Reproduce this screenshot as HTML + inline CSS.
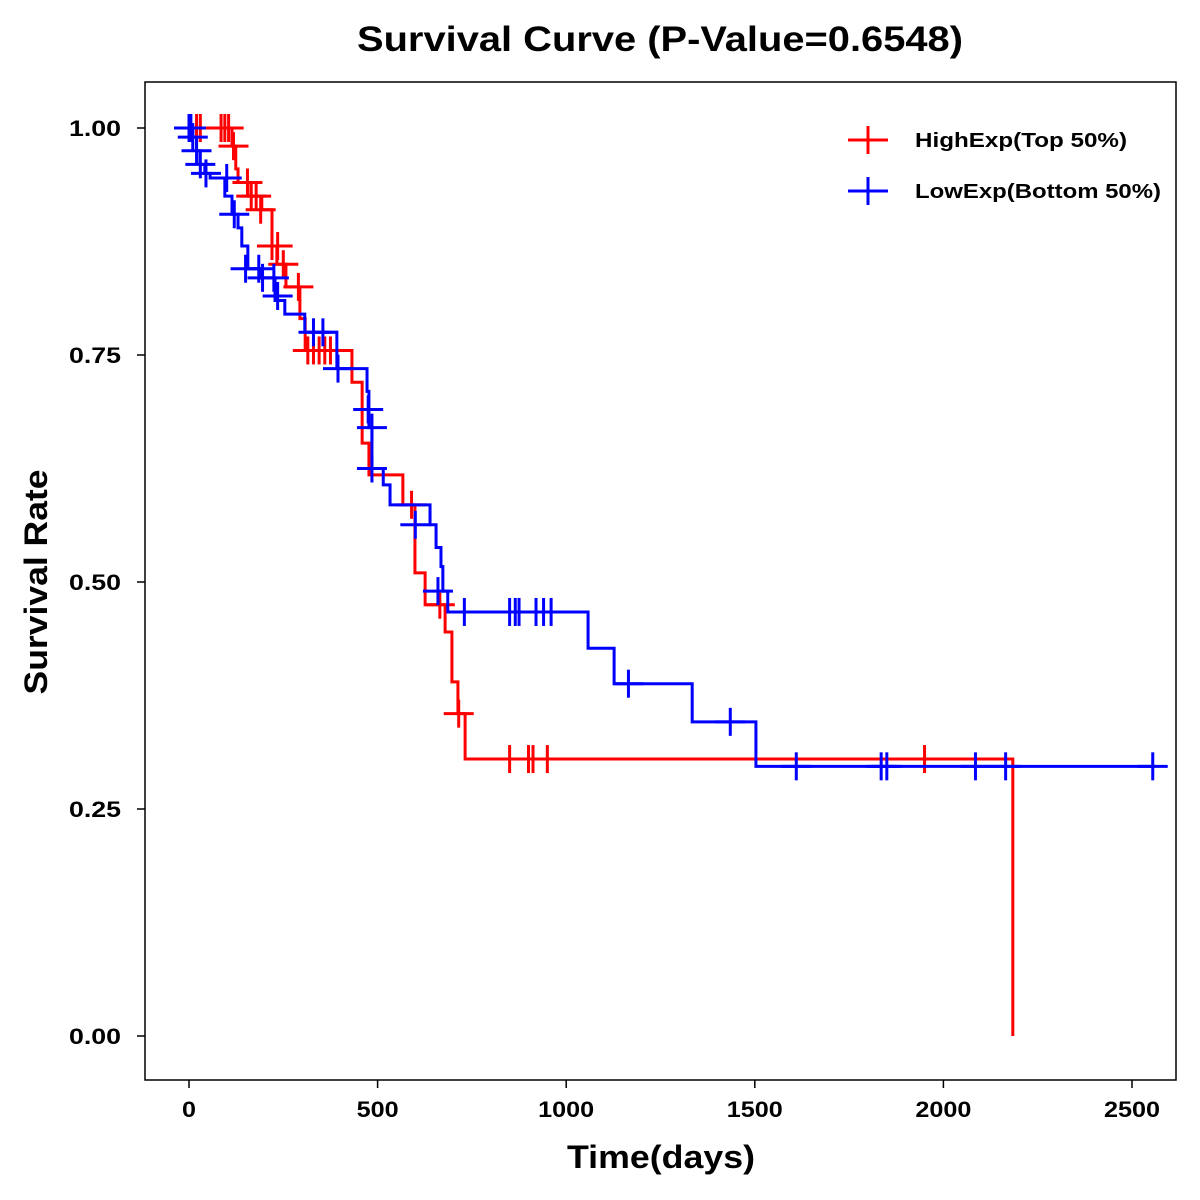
<!DOCTYPE html>
<html><head><meta charset="utf-8"><style>
body{margin:0;background:#fff}
svg{display:block;font-family:"Liberation Sans",Arial,sans-serif}
</style></head><body>
<svg id="chart" width="1200" height="1200" viewBox="0 0 1200 1200">
<text x="660" y="51" text-anchor="middle" font-size="35" font-weight="bold" textLength="606" lengthAdjust="spacingAndGlyphs">Survival Curve (P-Value=0.6548)</text>
<rect x="145" y="82" width="1031" height="998" fill="none" stroke="#000" stroke-width="1.5"/>
<g id="axes"></g>
<g id="series"></g>
<text x="661" y="1168" text-anchor="middle" font-size="32" font-weight="bold" textLength="188" lengthAdjust="spacingAndGlyphs">Time(days)</text>
<text transform="translate(47,582) rotate(-90)" text-anchor="middle" font-size="32" font-weight="bold" textLength="225" lengthAdjust="spacingAndGlyphs">Survival Rate</text>
<g>
<g>
<line x1="848" y1="140" x2="888" y2="140" stroke="#f00" stroke-width="3"/><line x1="868" y1="126" x2="868" y2="154" stroke="#f00" stroke-width="3"/>
<text x="915" y="147" font-size="20" font-weight="bold" textLength="212" lengthAdjust="spacingAndGlyphs">HighExp(Top 50%)</text></g>
<g>
<line x1="848" y1="191" x2="888" y2="191" stroke="#00f" stroke-width="3"/><line x1="868" y1="177" x2="868" y2="205" stroke="#00f" stroke-width="3"/>
<text x="915" y="198" font-size="20" font-weight="bold" textLength="246" lengthAdjust="spacingAndGlyphs">LowExp(Bottom 50%)</text></g>
</g>
</svg>
<script>
const xTicks=[0,500,1000,1500,2000,2500];
const yTicks=[0,0.25,0.5,0.75,1.0];
const yTickLabels=["0.00","0.25","0.50","0.75","1.00"];
const highTimes=[114,124,130,156,193,220,233,257,294,308,432,459,477,567,599,626,679,697,713,732,2184];
const highSurv=[0.98,0.955,0.94,0.925,0.91,0.87,0.85,0.825,0.79,0.755,0.72,0.653,0.618,0.585,0.51,0.475,0.445,0.39,0.355,0.305,0];
const highEnd=2184;
const highCensorTimes=[20,30,85,95,105,118,155,165,178,190,220,235,250,290,315,330,345,360,375,590,665,715,850,900,912,950,1950];
const highCensorSurv=[1,1,1,1,1,0.98,0.94,0.925,0.925,0.91,0.87,0.87,0.85,0.825,0.755,0.755,0.755,0.755,0.755,0.585,0.475,0.355,0.305,0.305,0.305,0.305,0.305];
const lowTimes=[10,20,29,42,56,95,114,130,140,156,189,228,254,307,392,472,477,485,515,533,639,655,668,673,686,1058,1127,1334,1503];
const lowSurv=[0.99,0.975,0.96,0.95,0.945,0.925,0.905,0.89,0.87,0.845,0.835,0.81,0.795,0.775,0.735,0.71,0.67,0.625,0.607,0.585,0.563,0.538,0.517,0.49,0.467,0.427,0.388,0.346,0.297];
const lowEnd=2560;
const lowCensorTimes=[0,5,10,20,30,45,100,120,150,185,195,225,235,330,355,395,475,485,485,600,660,730,850,865,875,920,940,960,1165,1435,1610,1835,1850,2085,2165,2555];
const lowCensorSurv=[1,1,0.99,0.975,0.96,0.95,0.945,0.905,0.845,0.845,0.835,0.835,0.815,0.775,0.775,0.735,0.69,0.67,0.625,0.563,0.49,0.467,0.467,0.467,0.467,0.467,0.467,0.467,0.388,0.346,0.297,0.297,0.297,0.297,0.297,0.297];

const NS='http://www.w3.org/2000/svg';
const X=d=>189+d*0.3772;
const Y=s=>1036-s*908;
function mk(tag,attrs,parent){const e=document.createElementNS(NS,tag);for(const k in attrs)e.setAttribute(k,attrs[k]);parent.appendChild(e);return e;}
const axes=document.getElementById('axes');
xTicks.forEach(t=>{
  const l=mk('line',{x1:X(t),x2:X(t),y1:1080,y2:1088,stroke:'#000','stroke-width':1.5},axes);
  
  
  const s=String(t);
  const tx=mk('text',{x:X(t),y:1117,'text-anchor':'middle','font-size':22,'font-weight':'bold',textLength:s.length*14,lengthAdjust:'spacingAndGlyphs'},axes);
  tx.textContent=s;
  
  
});
yTicks.forEach((t,i)=>{
  const l=mk('line',{x1:137,x2:145,y1:Y(t),y2:Y(t),stroke:'#000','stroke-width':1.5},axes);
  
  
  const tx=mk('text',{x:121,y:Y(t)+8,'text-anchor':'end','font-size':22,'font-weight':'bold',textLength:52,lengthAdjust:'spacingAndGlyphs'},axes);
  tx.textContent=yTickLabels[i];
  
  
});
const series=document.getElementById('series');
function draw(times,surv,end,ct,cs,color,name){
  let d='M'+X(0)+' '+Y(1);
  times.forEach((t,i)=>{d+=' H'+X(t)+' V'+Y(surv[i]);});
  if(end>times[times.length-1])d+=' H'+X(end);
  const p=mk('path',{d:d,fill:'none',stroke:color,'stroke-width':3},series);
  
  
  ct.forEach((t,i)=>{
    const g=mk('g',{},series);
    
    
    mk('line',{x1:X(t)-15,x2:X(t)+15,y1:Y(cs[i]),y2:Y(cs[i]),stroke:color,'stroke-width':3},g);
    mk('line',{x1:X(t),x2:X(t),y1:Y(cs[i])-14,y2:Y(cs[i])+14,stroke:color,'stroke-width':3},g);
  });
}
draw(highTimes,highSurv,highEnd,highCensorTimes,highCensorSurv,'#f00','high-exp');
draw(lowTimes,lowSurv,lowEnd,lowCensorTimes,lowCensorSurv,'#00f','low-exp');
</script>
</body></html>
